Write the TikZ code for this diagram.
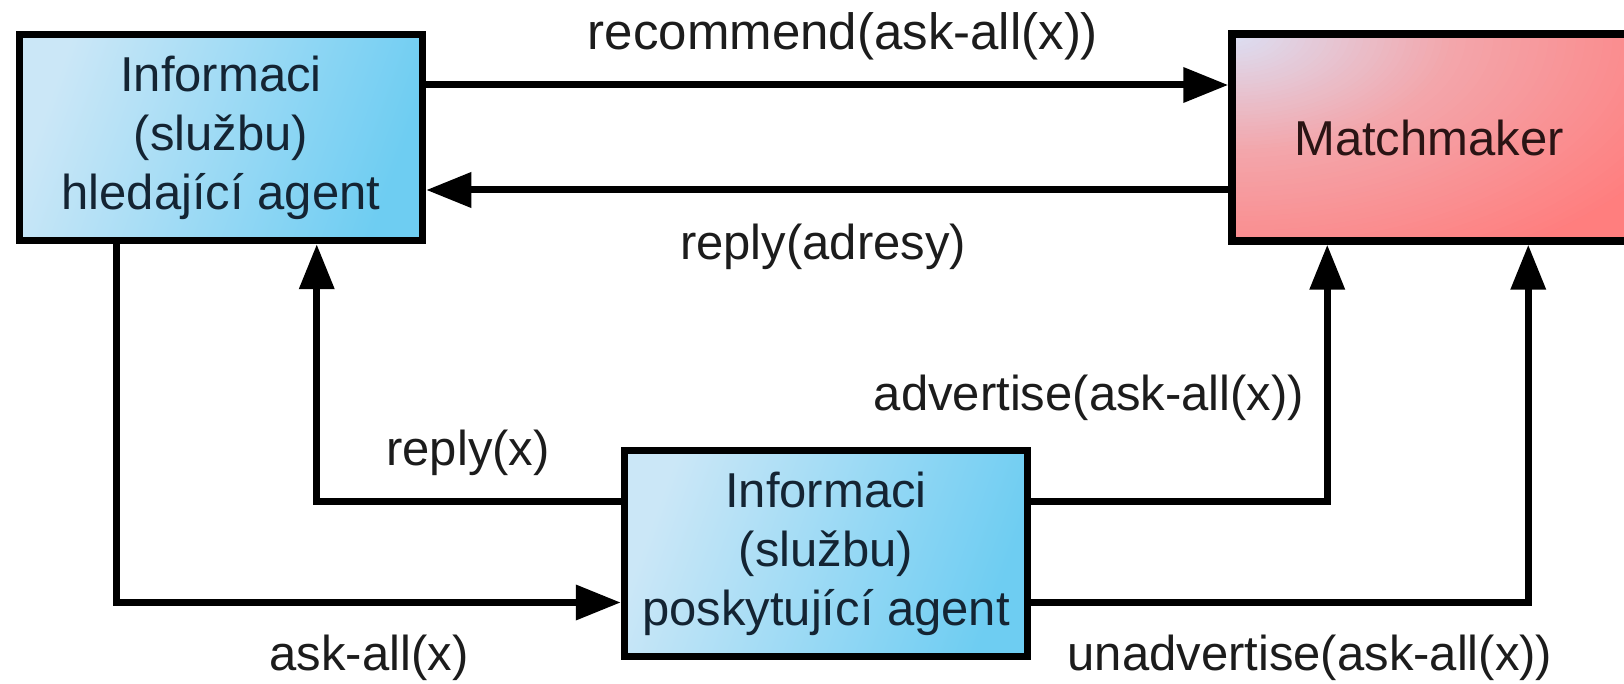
\documentclass[tikz,border=0pt]{standalone}
\usepackage{fontspec}
\setmainfont{Liberation Sans}
\usetikzlibrary{arrows.meta,positioning}

\definecolor{blueL}{HTML}{CBE7F7}
\definecolor{blueR}{HTML}{6ECDF2}
\definecolor{redL}{HTML}{DCDEF2}
\definecolor{redM}{HTML}{F3A6AB}
\definecolor{redR}{HTML}{FF7E7E}
\definecolor{ink}{HTML}{1C1C1C}
\definecolor{boxink}{HTML}{142433}
\definecolor{redink}{HTML}{2A1414}

\tikzset{
  agentbox/.style={draw=black, line width=7.5pt, rectangle,
    top color=blueL, bottom color=blueR, shading angle=70,
    minimum width=403pt, minimum height=206pt, inner sep=0pt,
    align=center, text=boxink,
    font=\fontsize{49}{59}\selectfont},
  % red box with a pale glow from its upper left corner,
  % built from nested ellipses of gradually changing colour
  matchbox/.style={draw=black, line width=7.5pt, rectangle,
    fill=redR,
    path picture={
      \coordinate (glow) at (path picture bounding box.north west);
      \foreach \i in {0,...,29}{
        \pgfmathsetmacro\rr{1-0.55*\i/30}
        \pgfmathsetmacro\pp{100*\i/30}
        \fill[redM!\pp!redR] (glow)
          ellipse[x radius=\rr*500pt, y radius=\rr*265pt];}
      \foreach \i in {0,...,29}{
        \pgfmathsetmacro\rr{0.45-0.43*\i/30}
        \pgfmathsetmacro\pp{100*\i/30}
        \fill[redL!\pp!redM] (glow)
          ellipse[x radius=\rr*500pt, y radius=\rr*265pt];}
    },
    minimum width=408pt, minimum height=207pt, inner sep=0pt,
    align=center, text=redink,
    font=\fontsize{49}{59}\selectfont},
  conn/.style={draw=black, line width=7pt,
    -{Triangle[length=45pt,width=34pt]}},
  msg/.style={anchor=base, text=ink, inner sep=0pt,
    font=\fontsize{49}{59}\selectfont},
}

\begin{document}
\begin{tikzpicture}[x=1pt,y=-1pt]
  \useasboundingbox (0,0) rectangle (1624,684);
  \fill[white] (0,0) rectangle (1624,684);
  \clip (0,0) rectangle (1624,684);

  % agents
  \node[agentbox] (A) at (221,137.5) {Informaci\\(službu)\\hledající agent};
  \node[matchbox, overlay] (M) at (1436,137.5) {\hspace*{-14pt}Matchmaker};
  \node[agentbox] (C) at (826,553.5) {Informaci\\(službu)\\poskytující agent};

  % messages between the requester and the matchmaker
  \draw[conn] ([yshift=52.5pt]A.east) -- ([yshift=52.5pt]M.west);
  \draw[conn] ([yshift=-52.5pt]M.west) -- ([yshift=-52.5pt]A.east);

  % messages between the requester and the provider
  \draw[conn] ([xshift=101pt]A.south west) |- ([yshift=-49pt]C.west);
  \draw[conn] ([yshift=52pt]C.west) -| ([xshift=301pt]A.south west);

  % messages from the provider to the matchmaker
  \draw[conn] ([yshift=52pt]C.east) -| ([xshift=99pt]M.south west);
  \draw[conn] ([yshift=-49pt]C.east) -| ([xshift=300pt]M.south west);

  % labels
  \node[msg, font=\fontsize{51}{59}\selectfont] (l1) at (843,50) {recommend(ask-all(x))};
  \node[msg] (l2) at (823,260) {reply(adresy)};
  \node[msg] (l3) at (1089,410) {advertise(ask-all(x))};
  \node[msg] (l4) at (468,465) {reply(x)};
  \node[msg] (l5) at (369,670) {ask-all(x)};
  \node[msg] (l6) at (1310,670) {unadvertise(ask-all(x))};
\end{tikzpicture}
\end{document}
